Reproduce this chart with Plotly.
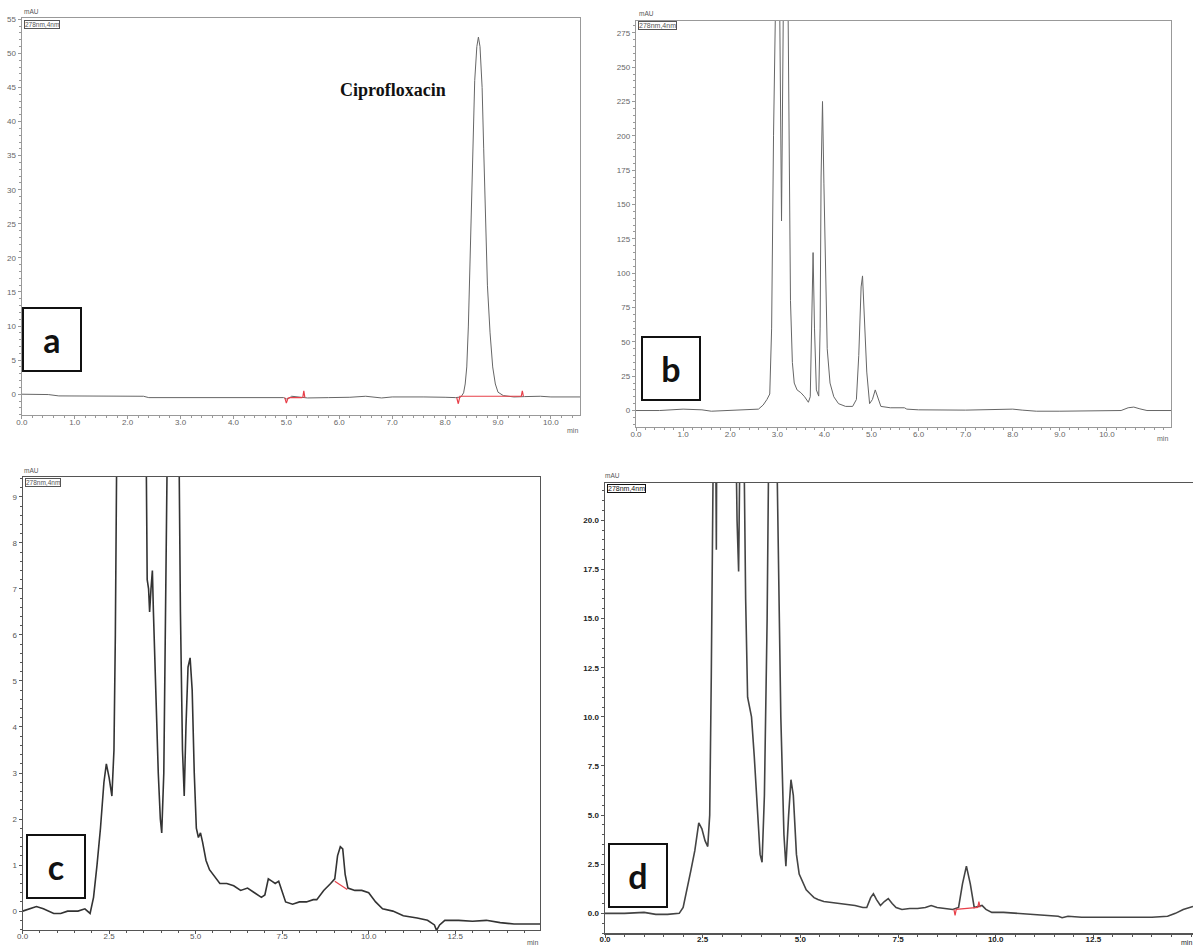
import plotly.graph_objects as go

W, H = 1193, 951

# ---------------- Panel a (standard ciprofloxacin) ----------------
a_time = [0.0, 0.3, 0.5, 0.7, 1.0, 1.5, 2.0, 2.3, 2.4, 3.0, 3.5, 4.0, 4.5, 4.95,
          5.0, 5.05, 5.1, 5.2, 5.3, 5.4, 5.8, 6.2, 6.5, 6.8, 7.0, 7.3, 7.6, 8.0,
          8.2, 8.3, 8.35, 8.38, 8.41, 8.44, 8.47, 8.50, 8.53, 8.56, 8.60, 8.63,
          8.66, 8.70, 8.73, 8.76, 8.80, 8.85, 8.90, 8.95, 9.0, 9.1, 9.3, 9.5,
          9.8, 10.0, 10.3, 10.55]
a_mau = [0.0, 0.0, -0.05, -0.25, -0.25, -0.3, -0.3, -0.3, -0.5, -0.5, -0.5,
         -0.55, -0.5, -0.5, -0.7, -0.6, -0.3, -0.35, -0.5, -0.55, -0.5, -0.45,
         -0.3, -0.55, -0.4, -0.35, -0.4, -0.45, -0.5, -0.4, 0.2, 1.5, 4.0, 10.0,
         20.0, 30.0, 39.0, 46.0, 51.0, 52.4, 51.0, 45.0, 36.0, 26.0, 16.0, 9.0,
         4.0, 1.5, 0.3, -0.2, -0.4, -0.35, -0.3, -0.4, -0.4, -0.4]
a_red_time = [4.97, 5.0, 5.03, 5.06, 5.30, None, 5.31, 5.33, 5.35, None,
              8.22, 8.25, 8.28, 9.45, None, 9.44, 9.46, 9.48]
a_red_mau = [-0.5, -1.3, -0.6, -0.5, -0.5, None, -0.5, 0.5, -0.5, None,
             -0.5, -1.4, -0.3, -0.3, None, -0.3, 0.5, -0.3]
a_xticks = [0, 1, 2, 3, 4, 5, 6, 7, 8, 9, 10]
a_yticks = [0, 5, 10, 15, 20, 25, 30, 35, 40, 45, 50, 55]

# ---------------- Panel b ----------------
b_time = [0.0, 0.5, 1.0, 1.2, 1.4, 1.6, 2.0, 2.4, 2.6, 2.7, 2.78, 2.84, 2.88,
          2.92, 2.96, 3.0, 3.05, 3.09, 3.13, 3.18, 3.22, 3.25, 3.28, 3.32, 3.36,
          3.42, 3.5, 3.58, 3.66, 3.70, 3.73, 3.76, 3.79, 3.83, 3.88, 3.91, 3.93,
          3.96, 3.99, 4.02, 4.06, 4.12, 4.2, 4.3, 4.45, 4.6, 4.68, 4.73, 4.78,
          4.81, 4.85, 4.9, 4.96, 5.02, 5.08, 5.13, 5.2, 5.4, 5.7, 5.75, 6.0,
          7.0, 7.8, 8.0, 8.2, 8.5, 9.0, 9.5, 10.0, 10.3, 10.45, 10.57, 10.7,
          10.85, 11.36]
b_mau = [0.0, 0.0, 1.0, 1.0, 0.5, -0.5, 0.0, 0.5, 1.0, 4.0, 8.0, 12.0, 60.0,
         200.0, 320.0, 380.0, 300.0, 138.0, 300.0, 380.0, 330.0, 200.0, 80.0,
         35.0, 20.0, 15.0, 13.0, 10.0, 6.0, 10.0, 60.0, 115.0, 60.0, 15.0, 10.5,
         60.0, 170.0, 225.0, 165.0, 100.0, 45.0, 20.0, 10.0, 5.0, 3.0, 3.0, 8.0,
         40.0, 90.0, 98.0, 70.0, 28.0, 5.0, 8.0, 15.0, 10.0, 3.0, 2.0, 2.0, 1.0,
         0.5, 0.3, 0.5, 1.0, 0.3, -0.5, -0.5, -0.5, -0.5, 0.0, 2.0, 2.5, 1.2,
         0.0, 0.0]
b_xticks = [0, 1, 2, 3, 4, 5, 6, 7, 8, 9, 10]
b_yticks = [0, 25, 50, 75, 100, 125, 150, 175, 200, 225, 250, 275]

# ---------------- Panel c ----------------
c_time = [0.0, 0.2, 0.4, 0.6, 0.9, 1.1, 1.3, 1.6, 1.8, 1.95, 2.05, 2.15, 2.25,
          2.35, 2.42, 2.5, 2.58, 2.64, 2.68, 2.72, 2.8, 3.2, 3.55, 3.6, 3.64,
          3.67, 3.71, 3.75, 3.78, 3.85, 3.92, 3.98, 4.02, 4.08, 4.13, 4.18, 4.25,
          4.4, 4.52, 4.56, 4.62, 4.67, 4.72, 4.78, 4.84, 4.9, 4.96, 5.02, 5.08,
          5.14, 5.2, 5.3, 5.4, 5.5, 5.6, 5.7, 5.9, 6.1, 6.3, 6.5, 6.7, 6.9, 7.0,
          7.1, 7.2, 7.3, 7.4, 7.5, 7.6, 7.8, 8.0, 8.2, 8.4, 8.5, 8.7, 8.9, 9.02,
          9.1, 9.18, 9.25, 9.32, 9.4, 9.6, 9.8, 10.0, 10.2, 10.4, 10.7, 11.0,
          11.4, 11.7, 11.9, 11.96, 12.05, 12.2, 12.6, 13.0, 13.4, 13.8, 14.2,
          14.95]
c_mau = [0.0, 0.05, 0.1, 0.05, -0.05, -0.05, 0.0, 0.0, 0.05, -0.05, 0.3, 1.0,
         1.8, 2.8, 3.2, 2.9, 2.5, 3.5, 6.0, 10.0, 25.0, 40.0, 12.0, 7.2, 7.0,
         6.5, 7.0, 7.4, 6.5, 4.5, 3.0, 2.0, 1.7, 3.0, 7.0, 10.0, 30.0, 30.0, 10.0,
         6.5, 3.5, 2.5, 4.0, 5.3, 5.5, 4.8, 3.0, 1.8, 1.6, 1.7, 1.5, 1.1, 0.9,
         0.8, 0.7, 0.6, 0.6, 0.55, 0.45, 0.5, 0.4, 0.3, 0.35, 0.7, 0.65, 0.6,
         0.65, 0.4, 0.2, 0.15, 0.2, 0.2, 0.25, 0.25, 0.45, 0.6, 0.7, 1.2, 1.4,
         1.35, 0.8, 0.5, 0.45, 0.45, 0.4, 0.2, 0.05, 0.0, -0.1, -0.15, -0.2,
         -0.3, -0.42, -0.3, -0.2, -0.2, -0.22, -0.2, -0.25, -0.28, -0.28]
c_red_time = [9.02, 9.38]
c_red_mau = [0.65, 0.47]
c_xticks = [0, 2.5, 5, 7.5, 10, 12.5]
c_yticks = [0, 1, 2, 3, 4, 5, 6, 7, 8, 9]

# ---------------- Panel d ----------------
d_time = [0.0, 0.5, 1.0, 1.3, 1.6, 1.9, 2.0, 2.1, 2.2, 2.3, 2.4, 2.48, 2.56,
          2.63, 2.68, 2.72, 2.76, 2.8, 2.84, 2.85, 2.87, 3.1, 3.33, 3.38, 3.42,
          3.46, 3.55, 3.6, 3.65, 3.75, 3.82, 3.9, 3.97, 4.02, 4.08, 4.15, 4.22,
          4.35, 4.42, 4.5, 4.58, 4.63, 4.7, 4.76, 4.82, 4.9, 4.97, 5.05, 5.15,
          5.25, 5.35, 5.45, 5.6, 5.8, 6.0, 6.2, 6.4, 6.6, 6.7, 6.8, 6.87, 6.95,
          7.05, 7.15, 7.25, 7.35, 7.45, 7.6, 7.8, 8.0, 8.2, 8.35, 8.5, 8.7, 8.9,
          9.05, 9.15, 9.25, 9.35, 9.45, 9.55, 9.65, 9.75, 9.9, 10.2, 10.6, 11.0,
          11.3, 11.6, 11.7, 11.85, 12.2, 13.0, 14.0, 14.4, 14.6, 14.8, 15.05]
d_mau = [0.0, 0.0, 0.05, -0.05, -0.05, 0.0, 0.3, 1.2, 2.2, 3.2, 4.6, 4.3, 3.7,
         3.4, 5.0, 12.0, 20.0, 30.0, 22.0, 18.5, 30.0, 60.0, 25.0, 20.0, 17.4,
         25.0, 25.0, 16.0, 11.0, 10.0, 8.0, 5.0, 3.0, 2.6, 6.0, 15.0, 30.0,
         30.0, 20.0, 10.0, 4.0, 2.4, 5.0, 6.8, 6.0, 3.0, 2.0, 1.6, 1.2, 1.0,
         0.8, 0.7, 0.6, 0.55, 0.5, 0.45, 0.4, 0.3, 0.3, 0.8, 1.0, 0.7, 0.4,
         0.6, 0.75, 0.5, 0.3, 0.2, 0.25, 0.25, 0.3, 0.4, 0.3, 0.25, 0.2, 0.3,
         1.5, 2.4, 1.5, 0.3, 0.35, 0.4, 0.2, 0.05, 0.05, 0.0, -0.05, -0.1,
         -0.15, -0.22, -0.15, -0.2, -0.2, -0.2, -0.15, 0.0, 0.2, 0.35]
d_red_time = [8.93, 8.96, 8.99, 9.55, None, 9.54, 9.57, 9.60]
d_red_mau = [0.2, -0.1, 0.2, 0.3, None, 0.3, 0.6, 0.3]
d_xticks = [0, 2.5, 5, 7.5, 10, 12.5]
d_yticks = [0, 2.5, 5, 7.5, 10, 12.5, 15, 17.5, 20]

panel_letters = ["a", "b", "c", "d"]
detector_label = "278nm,4nm"
peak_name = "Ciprofloxacin"


def px(x):
    return x / W


def py(y):
    return 1 - y / H


fig = go.Figure()

traces = [
    (a_time, a_mau, "x", "y", "#666666", 1.0),
    (b_time, b_mau, "x2", "y2", "#666666", 1.0),
    (c_time, c_mau, "x3", "y3", "#333333", 1.6),
    (d_time, d_mau, "x4", "y4", "#444444", 1.6),
]
for t, v, xa, ya, col, lw in traces:
    fig.add_trace(go.Scatter(x=t, y=v, xaxis=xa, yaxis=ya, mode="lines",
                             line=dict(color=col, width=lw), showlegend=False,
                             hoverinfo="skip"))

for t, v, xa, ya in [(a_red_time, a_red_mau, "x", "y"),
                     (c_red_time, c_red_mau, "x3", "y3"),
                     (d_red_time, d_red_mau, "x4", "y4")]:
    fig.add_trace(go.Scatter(x=t, y=v, xaxis=xa, yaxis=ya, mode="lines",
                             line=dict(color="#e8404a", width=1.2),
                             showlegend=False, hoverinfo="skip", connectgaps=False))


def axis(domain, rng, tickvals, minor, fmt, anchor, fc="#666666", lc="#999999",
         bold=False, lw=1, standoff=0):
    return dict(domain=domain, range=rng, anchor=anchor, showgrid=False,
                zeroline=False, showline=True, mirror=True, linecolor=lc,
                linewidth=lw, ticks="outside", ticklen=3, tickcolor=lc,
                tickmode="array", tickvals=tickvals,
                ticktext=[format(v, fmt) for v in tickvals],
                ticklabelstandoff=standoff,
                tickfont=dict(size=8, color=fc, family="Liberation Sans",
                              weight="bold" if bold else "normal"),
                minor=dict(dtick=minor, tick0=0, ticks="outside", ticklen=2,
                           tickcolor=lc),
                automargin=False, fixedrange=True)


fig.update_layout(
    width=W, height=H,
    margin=dict(l=0, r=0, t=0, b=0),
    paper_bgcolor="white", plot_bgcolor="white",
    xaxis=axis([px(21.8), px(580)], [0, 10.55], a_xticks, 0.2, ".1f", "y",
               lw=1.3, standoff=-4),
    yaxis=axis([py(415), py(18)], [-3.05, 55.2], a_yticks, 1, "d", "x", lw=1.3),
    xaxis2=axis([px(636), px(1171)], [0, 11.36], b_xticks, 0.2, ".1f", "y2",
                lw=1.3, standoff=-4),
    yaxis2=axis([py(427), py(21)], [-12, 283.6], b_yticks, 5, "d", "x2", lw=1.3),
    xaxis3=axis([px(22.6), px(540)], [0, 14.95], c_xticks, 0.5, ".1f", "y3",
                fc="#555555", lc="#555555", standoff=-5),
    yaxis3=axis([py(930), py(477)], [-0.41, 9.43], c_yticks, 0.2, "d", "x3",
                fc="#555555", lc="#555555"),
    xaxis4=axis([px(605), 1.0], [0, 15.05], d_xticks, 0.5, ".1f", "y4",
                fc="#222222", lc="#555555", bold=True, lw=1.5, standoff=-5),
    yaxis4=axis([py(933), py(483)], [-1.0, 21.9], d_yticks, 0.5, ".1f", "x4",
                fc="#222222", lc="#555555", bold=True, lw=1.5),
)

ann = []
# panel letter boxes: (letter, center x px, center y px)
box_specs = [(panel_letters[0], 52, 339.5), (panel_letters[1], 671, 368),
             (panel_letters[2], 56, 866.5), (panel_letters[3], 638, 875.5)]
for letter, cx, cy in box_specs:
    ann.append(dict(text="<b>%s</b>" % letter, x=px(cx), y=py(cy), xref="paper",
                    yref="paper", xanchor="center", yanchor="middle",
                    showarrow=False, width=56, height=61, borderpad=0,
                    bordercolor="#111111", borderwidth=2, bgcolor="white",
                    font=dict(size=34, color="#111111", family="Lato")))

# detector legend boxes and mAU / min labels
legend_specs = [(24, 20, "#555555", 6.5), (638, 21, "#555555", 7),
                (25, 478, "#555555", 6.5), (607, 484, "#111111", 7)]
for lx, ly, col, fs in legend_specs:
    ann.append(dict(text=detector_label, x=px(lx), y=py(ly), xref="paper",
                    yref="paper", xanchor="left", yanchor="top",
                    showarrow=False, borderpad=0, bordercolor=col,
                    borderwidth=1, bgcolor="white",
                    font=dict(size=fs, color=col, family="Liberation Sans")))

mau_specs = [(22, 11), (637, 13), (22, 470), (603, 475)]
for mx, my in mau_specs:
    ann.append(dict(text="mAU", x=px(mx), y=py(my), xref="paper", yref="paper",
                    xanchor="left", yanchor="middle", showarrow=False,
                    font=dict(size=6.5, color="#555555", family="Liberation Sans")))

min_specs = [(572, 430, "#666666"), (1162, 438, "#666666"),
             (532, 942, "#555555"), (1186, 942, "#222222")]
for mx, my, col in min_specs:
    ann.append(dict(text="min", x=px(mx), y=py(my), xref="paper", yref="paper",
                    xanchor="center", yanchor="middle", showarrow=False,
                    font=dict(size=7, color=col, family="Liberation Sans")))

ann.append(dict(text="<b>%s</b>" % peak_name, x=px(393), y=py(90), xref="paper",
                yref="paper", xanchor="center", yanchor="middle",
                showarrow=False,
                font=dict(size=18, color="#111111", family="Liberation Serif")))

fig.update_layout(annotations=ann)
fig.write_html(
    "out.html",
    config={"displayModeBar": False, "staticPlot": True},
    post_script="document.body.style.margin='0';document.body.style.overflow='hidden';",
)
